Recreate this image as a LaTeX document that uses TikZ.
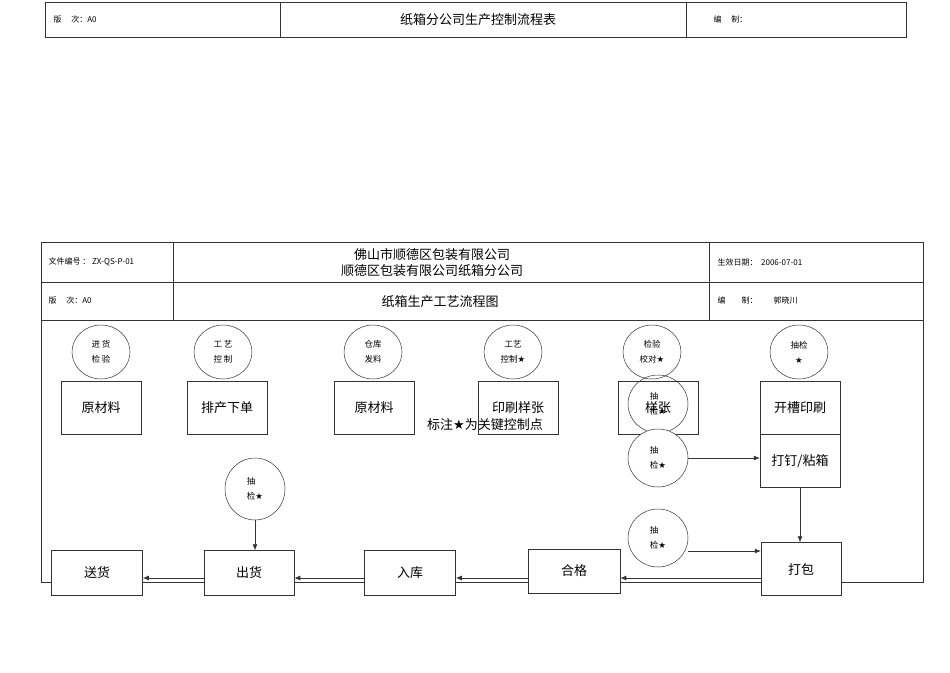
\documentclass[tikz,border=0pt]{standalone}
\usepackage{fontspec}
\setmainfont{Liberation Sans}
\newfontfamily\cjk{Noto Sans CJK SC}
\newcommand{\xing}{{\fontspec{DejaVu Sans}★}}
\usetikzlibrary{arrows.meta,shapes.geometric}
\tikzset{
  proc/.style={draw, fill=white, minimum width=80pt, minimum height=53pt, font=\cjk\fontsize{13}{15}\selectfont},
  check/.style={draw, fill=white, ellipse, minimum width=58pt, minimum height=54pt, inner sep=0pt, align=center, font=\cjk\fontsize{8.5}{15}\selectfont},
  arr/.style={-{Latex[length=6pt,width=5pt]}, line width=0.6pt},
  cell/.style={font=\cjk\fontsize{8}{10}\selectfont, anchor=west}
}
\begin{document}
\begin{tikzpicture}[x=1pt,y=-1pt,line width=0.5pt,draw=black!80]
    \useasboundingbox (0,0) rectangle (950,672);
    % top header
    \draw (45,2) rectangle (906,37);
    \draw (280,2) -- (280,37);
    \draw (686,2) -- (686,37);
    \node[cell] (ban1) at (50,19) {版\quad\ 次：A0};
    \node[font=\cjk\fontsize{13}{15}\selectfont] (title1) at (478,20) {纸箱分公司生产控制流程表};
    \node[cell] (bian1) at (710,19) {编\quad\ 制：};
    % main frame
    \draw (41,242) rectangle (923,582);
    \draw (41,282) -- (923,282);
    \draw (41,320) -- (923,320);
    \draw (173,242) -- (173,320);
    \draw (709,242) -- (709,320);
    \node[cell] (code) at (45,262) {文件编号 ： ZX-QS-P-01};
    \node[align=center, font=\cjk\fontsize{13}{16}\selectfont] (company) at (432,263) {佛山市顺德区包装有限公司\\顺德区包装有限公司纸箱分公司};
    \node[cell] (date) at (714,262) {生效日期：\ \ 2006-07-01};
    \node[cell] (ban2) at (45,300) {版\quad\ 次：A0};
    \node[font=\cjk\fontsize{13}{15}\selectfont] (title2) at (440,302) {纸箱生产工艺流程图};
    \node[cell] (bian2) at (714,300) {编\qquad 制：\qquad 郭晓川};
    % top row
    \node[proc] (yuan1) at (101,408) {原材料};
    \node[proc] (paichan) at (227,408) {排产下单};
    \node[proc] (yuan2) at (374,408) {原材料};
    \node[proc] (yinshua) at (518,408) {印刷样张};
    \node[proc] (yangzhang) at (658,408) {样张};
    \node[proc] (kaicao) at (800,408) {开槽印刷};
    \node[proc] (dading) at (800,461) {打钉/粘箱};
    \node[check] (c1) at (101,352) {进\ 货\\检\ 验};
    \node[check] (c2) at (223,352) {工\ 艺\\控\ 制};
    \node[check] (c3) at (373,352) {仓库\\发料};
    \node[check] (c4) at (513,352) {工艺\\控制\xing};
    \node[check] (c5) at (652,352) {检验\\校对\xing};
    \node[check] (c6) at (799,352) {抽检\\\xing};
    \node[check, fill=none, minimum width=60pt, minimum height=58pt, align=left] (c7) at (658,404) {抽\\检\xing};
    \node[check, minimum width=60pt, minimum height=58pt, align=left] (c8) at (658,458) {抽\\检\xing};
    \node[check, minimum width=60pt, minimum height=58pt, align=left] (c9) at (658,538) {抽\\检\xing};
    \node[check, minimum width=60pt, minimum height=62pt, align=left] (c10) at (255,489) {抽\\检\xing};
    \node[font=\cjk\fontsize{13}{15}\selectfont] (note) at (485,425) {标注\xing 为关键控制点};
    % bottom row
    \node[proc, minimum width=91pt, minimum height=45pt] (songhuo) at (97,573) {送货};
    \node[proc, minimum width=90pt, minimum height=45pt] (chuhuo) at (249,573) {出货};
    \node[proc, minimum width=91pt, minimum height=45pt] (ruku) at (410,573) {入库};
    \node[proc, minimum width=92pt, minimum height=44pt] (hege) at (574,571) {合格};
    \node[proc, minimum width=80pt, minimum height=53pt] (dabao) at (801,569) {打包};
    % connectors
    \draw[arr] (c8.east) -- (dading.west |- c8.east);
    \draw[arr] (c9.east |- 0,551) -- (dabao.west |- 0,551);
    \draw[arr] (dading.south) -- (dabao.north -| dading.south);
    \draw[arr] (c10.south) -- (chuhuo.north -| c10.south);
    \draw[arr, line width=1pt] (dabao.west |- 0,578) -- (hege.east |- 0,578);
    \draw[arr, line width=1pt] (hege.west |- 0,578) -- (ruku.east |- 0,578);
    \draw[arr, line width=1pt] (ruku.west |- 0,578) -- (chuhuo.east |- 0,578);
    \draw[arr, line width=1pt] (chuhuo.west |- 0,578) -- (songhuo.east |- 0,578);
\end{tikzpicture}
\end{document}
